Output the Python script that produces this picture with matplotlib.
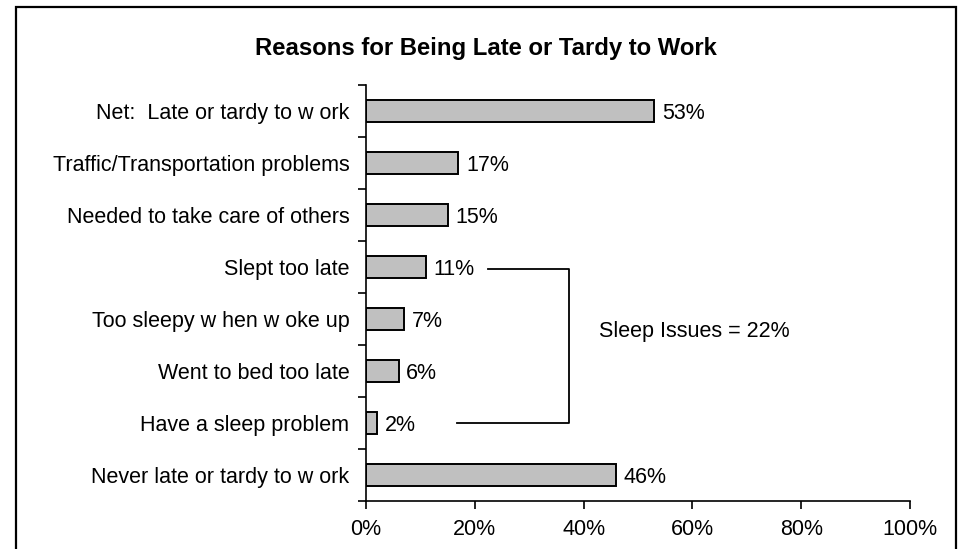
import matplotlib
matplotlib.use("Agg")
import matplotlib.pyplot as plt
from matplotlib.patches import Rectangle
import numpy as np

categories = [
    "Net:  Late or tardy to w ork",
    "Traffic/Transportation problems",
    "Needed to take care of others",
    "Slept too late",
    "Too sleepy w hen w oke up",
    "Went to bed too late",
    "Have a sleep problem",
    "Never late or tardy to w ork",
]
values = [53, 17, 15, 11, 7, 6, 2, 46]
sleep_total = 22
title = "Reasons for Being Late or Tardy to Work"
xticks = [0, 20, 40, 60, 80, 100]

plt.rcParams["font.family"] = ["Liberation Sans", "DejaVu Sans"]
FS = 15.5

W, H = 958, 549
fig = plt.figure(figsize=(W / 100, H / 100), dpi=100)
fig.patch.set_facecolor("white")

# outer border (bottom edge off-canvas)
fig.add_artist(Rectangle((16 / W, -0.05), (956 - 16) / W, 1.05 - 7 / H,
                         transform=fig.transFigure, fill=False,
                         edgecolor="black", linewidth=1.6))

ax = fig.add_axes([366 / W, 1 - 501 / H, (910 - 366) / W, (501 - 85) / H])
n = len(categories)
y = np.arange(n)
ax.barh(y, values, height=0.42, color="#C0C0C0", edgecolor="black", linewidth=1.4)
ax.set_xlim(0, 100)
ax.set_ylim(n - 0.5, -0.5)

for yi, v in zip(y, values):
    ax.annotate(f"{v}%", (v, yi), xytext=(5.5, 0), textcoords="offset points",
                va="center_baseline", ha="left", fontsize=FS)

ax.set_yticks(np.arange(-0.5, n, 1.0))
ax.set_yticklabels([])
ax.set_yticks(y, minor=True)
ax.set_yticklabels(categories, minor=True, fontsize=FS)
ax.tick_params(axis="y", which="major", direction="out", length=6, width=1.2)
ax.tick_params(axis="y", which="minor", length=0, pad=12)
ax.set_xticks(xticks)
ax.set_xticklabels([f"{t}%" for t in xticks], fontsize=FS)
ax.tick_params(axis="x", direction="out", length=6, width=1.2, pad=7)

for s in ("top", "right"):
    ax.spines[s].set_visible(False)
for s in ("left", "bottom"):
    ax.spines[s].set_linewidth(1.2)

# bracket for sleep issues
ax.plot([22.4, 37.3, 37.3, 16.7], [3.04, 3.04, 6.0, 6.0], color="black",
        linewidth=1.3, clip_on=False)
ax.text(42.8, 4.2, f"Sleep Issues = {sleep_total}%", fontsize=FS,
        va="center_baseline", ha="left")

fig.text(486 / W, 1 - 48 / H, title, fontsize=17.2, fontweight="bold",
         ha="center", va="center")

fig.savefig("out.png", dpi=100)
